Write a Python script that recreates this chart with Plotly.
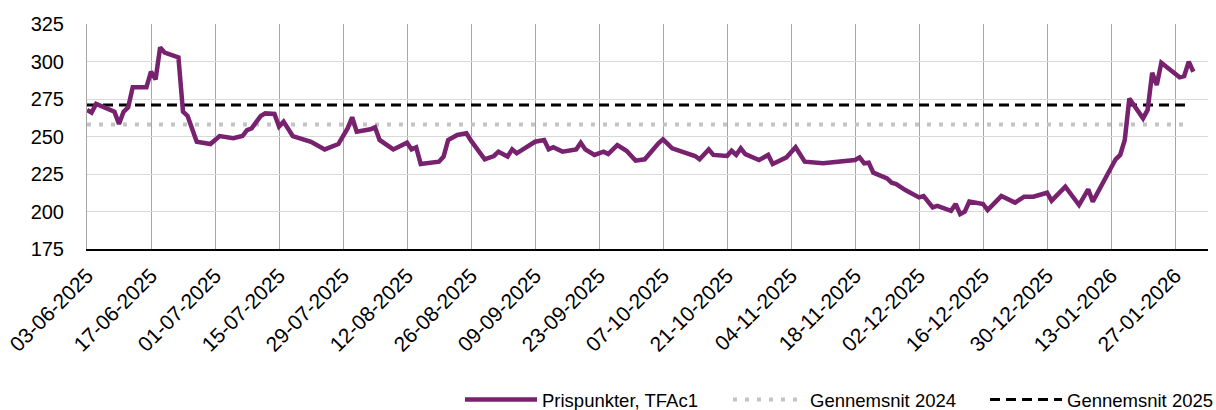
import plotly.graph_objects as go

dates = [
    "2025-06-03", "2025-06-04", "2025-06-05", "2025-06-07", "2025-06-09", "2025-06-10",
    "2025-06-11", "2025-06-12", "2025-06-13", "2025-06-16", "2025-06-17", "2025-06-18",
    "2025-06-19", "2025-06-20", "2025-06-23", "2025-06-24", "2025-06-25", "2025-06-27",
    "2025-06-30", "2025-07-02", "2025-07-03", "2025-07-05", "2025-07-07", "2025-07-08",
    "2025-07-09", "2025-07-11", "2025-07-12", "2025-07-14", "2025-07-15", "2025-07-16",
    "2025-07-18", "2025-07-20", "2025-07-22", "2025-07-25", "2025-07-28", "2025-07-30",
    "2025-07-31", "2025-08-01", "2025-08-04", "2025-08-05", "2025-08-06", "2025-08-09",
    "2025-08-12", "2025-08-13", "2025-08-14", "2025-08-15", "2025-08-19", "2025-08-20",
    "2025-08-21", "2025-08-23", "2025-08-25", "2025-08-26", "2025-08-29", "2025-08-31",
    "2025-09-01", "2025-09-03", "2025-09-04", "2025-09-05", "2025-09-09", "2025-09-11",
    "2025-09-12", "2025-09-13", "2025-09-15", "2025-09-18", "2025-09-19", "2025-09-20",
    "2025-09-22", "2025-09-24", "2025-09-25", "2025-09-27", "2025-09-29", "2025-10-01",
    "2025-10-03", "2025-10-06", "2025-10-07", "2025-10-09", "2025-10-11", "2025-10-14",
    "2025-10-15", "2025-10-17", "2025-10-18", "2025-10-21", "2025-10-22", "2025-10-23",
    "2025-10-24", "2025-10-25", "2025-10-28", "2025-10-30", "2025-10-31", "2025-11-03",
    "2025-11-05", "2025-11-06", "2025-11-07", "2025-11-11", "2025-11-18", "2025-11-19",
    "2025-11-20", "2025-11-21", "2025-11-22", "2025-11-25", "2025-11-26", "2025-11-27",
    "2025-11-29", "2025-12-02", "2025-12-03", "2025-12-05", "2025-12-06", "2025-12-09",
    "2025-12-10", "2025-12-11", "2025-12-12", "2025-12-13", "2025-12-16", "2025-12-17",
    "2025-12-20", "2025-12-23", "2025-12-25", "2025-12-27", "2025-12-30", "2025-12-31",
    "2026-01-03", "2026-01-06", "2026-01-08", "2026-01-09", "2026-01-12", "2026-01-14",
    "2026-01-15", "2026-01-16", "2026-01-17", "2026-01-20", "2026-01-21", "2026-01-22",
    "2026-01-23", "2026-01-24", "2026-01-28", "2026-01-29", "2026-01-30", "2026-01-31",
]

prices = [
    267.7, 265.9, 271.7, 269.4, 266.5, 258.3,
    266.5, 269.4, 282.8, 282.8, 293.2, 288.1,
    309.4, 305.9, 302.8, 266.5, 263.7, 246.5,
    245.0, 250.3, 249.9, 248.8, 250.3, 254.3,
    255.4, 263.7, 265.4, 265.0, 256.6, 259.9,
    250.3, 248.1, 246.5, 241.4, 245.0, 255.4,
    262.8, 253.2, 254.8, 256.1, 247.7, 241.4,
    245.9, 241.4, 242.8, 231.7, 233.2, 236.6,
    247.7, 251.0, 252.1, 247.2, 234.8, 237.0,
    239.9, 236.6, 241.4, 238.8, 246.5, 247.7,
    241.4, 242.8, 239.9, 241.4, 245.9, 241.4,
    237.7, 239.9, 238.3, 244.3, 240.5, 233.9,
    234.8, 245.5, 248.1, 242.1, 239.9, 237.0,
    234.8, 241.4, 237.7, 237.0, 240.5, 237.7,
    242.1, 238.3, 234.3, 237.7, 231.7, 236.1,
    242.8, 238.3, 233.2, 232.1, 234.3, 236.1,
    232.1, 232.5, 225.9, 222.1, 219.2, 218.3,
    214.3, 209.4, 210.3, 202.8, 203.7, 200.5,
    205.0, 198.3, 199.9, 206.6, 205.0, 201.0,
    210.3, 205.9, 209.9, 209.9, 212.5, 207.2,
    216.5, 204.3, 214.8, 206.6, 223.2, 234.8,
    237.7, 247.7, 275.4, 262.1, 267.7, 292.5,
    284.3, 299.2, 289.5, 290.3, 299.9, 293.2,
]

avg_dates = ["2025-06-03", "2026-01-30"]
avg_2024 = [258, 258]
avg_2025 = [271, 271]

y_ticks = [175, 200, 225, 250, 275, 300, 325]

FONT = "Liberation Sans, Arial, sans-serif"
PURPLE = "#77216F"

fig = go.Figure()

fig.add_trace(go.Scatter(
    x=avg_dates, y=avg_2024, mode="lines", name="Gennemsnit 2024",
    line=dict(color="#C4C4C4", width=4, dash="4px,8px"), legend="legend2",
))
fig.add_trace(go.Scatter(
    x=avg_dates, y=avg_2025, mode="lines", name="Gennemsnit 2025",
    line=dict(color="#000000", width=3, dash="10px,6px"), legend="legend3",
))
fig.add_trace(go.Scatter(
    x=dates, y=prices, mode="lines", name="Prispunkter, TFAc1",
    line=dict(color=PURPLE, width=4.5), legend="legend",
))

def leg(left_px):
    return dict(
        orientation="h", xref="container", yref="container",
        x=left_px / 1216, xanchor="left", y=10 / 410, yanchor="middle",
        font=dict(family=FONT, size=18.5, color="#000000"),
        itemwidth=72, bgcolor="rgba(0,0,0,0)",
    )

fig.update_layout(
    width=1216, height=410,
    margin=dict(l=87, r=8, t=24, b=161, autoexpand=False),
    paper_bgcolor="white", plot_bgcolor="white",
    font=dict(family=FONT, size=20, color="#000000"),
    showlegend=True,
    legend=leg(460),
    legend2=leg(728),
    legend3=leg(985),
)

fig.update_xaxes(
    type="date", automargin=False,
    range=["2025-06-03", "2026-02-03 05:00"],
    tick0="2025-06-03", dtick=14 * 86400000,
    tickformat="%d-%m-%Y", tickangle=-45,
    showgrid=True, gridcolor="#A6A6A6", gridwidth=1,
    showline=True, linecolor="#000000", linewidth=2,
    ticks="", zeroline=False, ticklabelstandoff=4,
    tickfont=dict(family=FONT, size=21, color="#000000"),
)
fig.update_yaxes(
    automargin=False,
    range=[175, 325], tickvals=y_ticks,
    showgrid=True, gridcolor="#D9D9D9", gridwidth=1,
    showline=True, linecolor="#A6A6A6", linewidth=1,
    ticks="", zeroline=False, ticklabelstandoff=18,
    tickfont=dict(family=FONT, size=20, color="#000000"),
)

fig.write_html(
    "out.html",
    config={"displayModeBar": False},
    post_script="document.body.style.margin='0';",
)
